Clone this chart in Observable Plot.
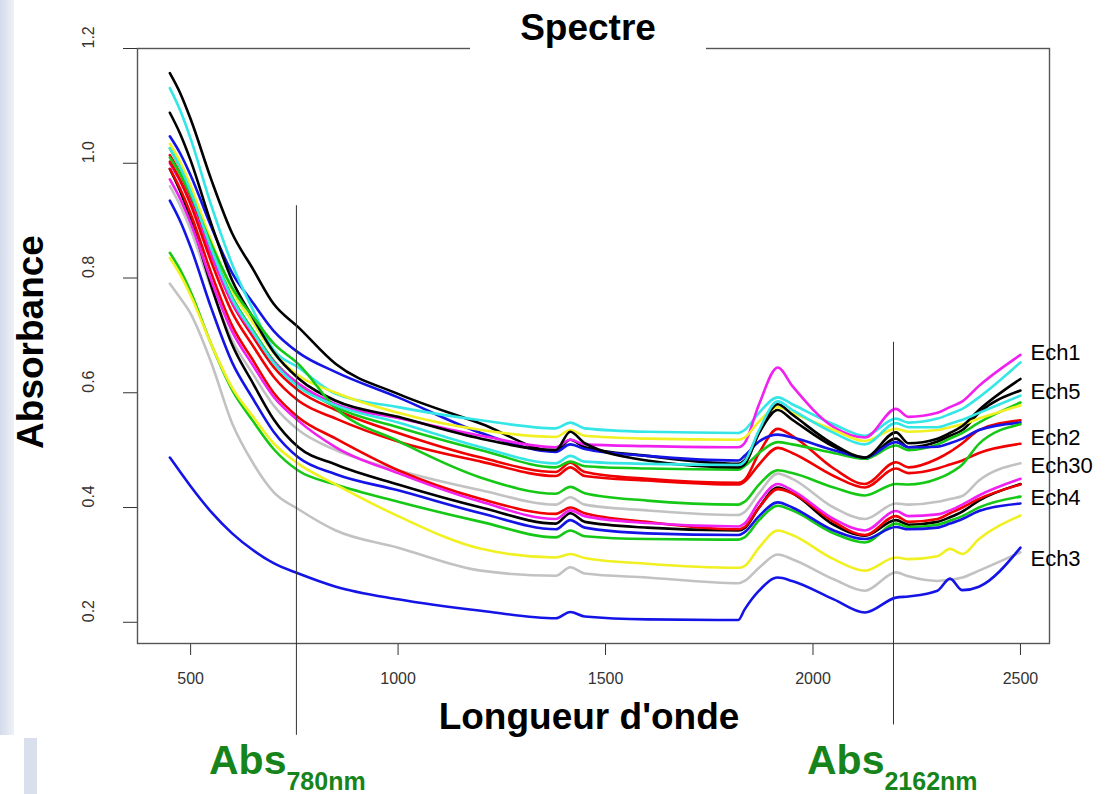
<!DOCTYPE html>
<html>
<head>
<meta charset="utf-8">
<script src="https://cdn.jsdelivr.net/npm/d3@7"></script>
<script src="https://cdn.jsdelivr.net/npm/@observablehq/plot@0.6"></script>
<style>
  html, body { margin: 0; padding: 0; background: #fff; }
  #wrap { position: relative; width: 1107px; height: 794px; background: #fff; overflow: hidden;
          font-family: "Liberation Sans", Arial, Helvetica, sans-serif; }
  #chart { position: absolute; left: 0; top: 0; }
  .strip1 { position: absolute; left: 0; top: 0; width: 14px; height: 735px;
            background: linear-gradient(to right, #d3dbea, #eef1f7); }
  .strip2 { position: absolute; left: 24px; top: 738px; width: 13px; height: 56px; background: #d9dfeb; }
  .title { position: absolute; left: 470px; top: 6px; width: 236px; height: 44px; background: #fff;
           text-align: center; font-weight: bold; font-size: 37px; line-height: 44px; color: #000; }
  .ylab { position: absolute; left: 31px; top: 342px; transform: translate(-50%, -50%) rotate(-90deg);
          font-weight: bold; font-size: 37px; white-space: nowrap; color: #000; }
  .xlab { position: absolute; left: 589px; top: 717px; transform: translate(-50%, -50%);
          font-weight: bold; font-size: 37px; white-space: nowrap; color: #000; }
  .abs { position: absolute; color: #16841a; font-weight: bold; font-size: 41px; white-space: nowrap; line-height: 1; }
  .abs sub { font-size: 25px; vertical-align: -16px; }
</style>
</head>
<body>
<div id="wrap">
  <div class="strip1"></div>
  <div class="strip2"></div>
  <div id="chart"></div>
  <div class="title">Spectre</div>
  <div class="ylab">Absorbance</div>
  <div class="xlab">Longueur d'onde</div>
  <div class="abs" style="left:209px; top:740px;">Abs<sub>780nm</sub></div>
  <div class="abs" style="left:807px; top:740px;">Abs<sub>2162nm</sub></div>
</div>
<script>
// Wavelengths (nm) at which each spectrum is read
const wavelengths = [450, 475, 500, 550, 600, 650, 700, 760, 850, 1000, 1200, 1380, 1415, 1450, 1600, 1820, 1835, 1870, 1915, 1950, 2050, 2125, 2200, 2230, 2300, 2330, 2360, 2400, 2500];

// Absorbance spectra
const blackTop   = [1.157, 1.122, 1.077, 0.971, 0.878, 0.816, 0.755, 0.714, 0.650, 0.598, 0.546, 0.498, 0.518, 0.505, 0.490, 0.476, 0.482, 0.530, 0.570, 0.553, 0.506, 0.485, 0.520, 0.505, 0.515, 0.525, 0.535, 0.565, 0.604];
const redA       = [1.014, 0.981, 0.940, 0.842, 0.756, 0.698, 0.645, 0.604, 0.570, 0.530, 0.487, 0.462, 0.478, 0.462, 0.450, 0.443, 0.448, 0.495, 0.537, 0.525, 0.468, 0.441, 0.479, 0.470, 0.485, 0.497, 0.512, 0.535, 0.552];
const greenA     = [1.026, 0.992, 0.951, 0.853, 0.767, 0.709, 0.656, 0.615, 0.575, 0.540, 0.500, 0.470, 0.480, 0.472, 0.468, 0.466, 0.472, 0.495, 0.514, 0.510, 0.495, 0.485, 0.508, 0.500, 0.510, 0.520, 0.530, 0.548, 0.583];
const blueA      = [1.047, 1.017, 0.979, 0.889, 0.809, 0.757, 0.708, 0.670, 0.636, 0.592, 0.530, 0.497, 0.510, 0.502, 0.490, 0.482, 0.490, 0.515, 0.527, 0.522, 0.500, 0.487, 0.514, 0.505, 0.506, 0.512, 0.520, 0.535, 0.548];
const cyanA      = [1.131, 1.092, 1.043, 0.926, 0.824, 0.745, 0.675, 0.644, 0.598, 0.575, 0.552, 0.538, 0.548, 0.538, 0.532, 0.530, 0.535, 0.565, 0.592, 0.580, 0.545, 0.525, 0.555, 0.548, 0.555, 0.563, 0.572, 0.592, 0.653];
const magentaA   = [1.000, 0.969, 0.931, 0.839, 0.758, 0.704, 0.654, 0.616, 0.580, 0.556, 0.525, 0.505, 0.518, 0.510, 0.507, 0.505, 0.512, 0.580, 0.644, 0.612, 0.540, 0.522, 0.572, 0.558, 0.565, 0.575, 0.585, 0.612, 0.666];
const yellowA    = [1.034, 1.002, 0.961, 0.864, 0.779, 0.723, 0.670, 0.630, 0.600, 0.565, 0.535, 0.523, 0.535, 0.525, 0.520, 0.518, 0.522, 0.550, 0.575, 0.565, 0.535, 0.516, 0.537, 0.532, 0.535, 0.540, 0.545, 0.555, 0.578];
const grayA      = [0.960, 0.926, 0.884, 0.782, 0.692, 0.633, 0.578, 0.535, 0.500, 0.465, 0.430, 0.405, 0.418, 0.405, 0.395, 0.387, 0.392, 0.425, 0.459, 0.450, 0.400, 0.380, 0.407, 0.405, 0.410, 0.415, 0.420, 0.447, 0.477];
const blackB     = [1.088, 1.051, 1.005, 0.894, 0.796, 0.731, 0.671, 0.625, 0.586, 0.558, 0.520, 0.500, 0.532, 0.512, 0.482, 0.470, 0.475, 0.530, 0.580, 0.562, 0.510, 0.487, 0.531, 0.512, 0.520, 0.530, 0.542, 0.570, 0.624];
const redB       = [1.003, 0.970, 0.928, 0.828, 0.740, 0.682, 0.628, 0.586, 0.555, 0.515, 0.480, 0.455, 0.470, 0.455, 0.447, 0.440, 0.445, 0.475, 0.504, 0.495, 0.455, 0.435, 0.468, 0.460, 0.468, 0.475, 0.482, 0.495, 0.511];
const greenB     = [1.010, 0.981, 0.945, 0.859, 0.783, 0.733, 0.686, 0.650, 0.573, 0.516, 0.452, 0.424, 0.436, 0.425, 0.412, 0.405, 0.410, 0.440, 0.465, 0.460, 0.435, 0.421, 0.441, 0.440, 0.450, 0.460, 0.475, 0.511, 0.545];
const cyanB      = [1.026, 0.993, 0.951, 0.851, 0.764, 0.706, 0.652, 0.610, 0.578, 0.548, 0.505, 0.477, 0.490, 0.480, 0.476, 0.474, 0.480, 0.535, 0.585, 0.570, 0.530, 0.510, 0.547, 0.540, 0.540, 0.546, 0.553, 0.565, 0.595];
const blackC     = [0.990, 0.951, 0.903, 0.786, 0.684, 0.617, 0.554, 0.505, 0.475, 0.440, 0.400, 0.372, 0.390, 0.375, 0.365, 0.360, 0.364, 0.400, 0.435, 0.425, 0.370, 0.351, 0.378, 0.370, 0.375, 0.383, 0.393, 0.412, 0.441];
const redC       = [0.990, 0.955, 0.912, 0.808, 0.717, 0.657, 0.600, 0.557, 0.520, 0.465, 0.415, 0.389, 0.400, 0.390, 0.375, 0.362, 0.366, 0.400, 0.432, 0.425, 0.375, 0.352, 0.385, 0.375, 0.380, 0.390, 0.400, 0.415, 0.440];
const greenC     = [0.844, 0.814, 0.776, 0.684, 0.605, 0.551, 0.502, 0.464, 0.440, 0.410, 0.375, 0.348, 0.360, 0.350, 0.345, 0.344, 0.348, 0.378, 0.403, 0.395, 0.355, 0.339, 0.372, 0.366, 0.370, 0.377, 0.385, 0.400, 0.419];
const blueC      = [0.935, 0.899, 0.854, 0.747, 0.653, 0.590, 0.532, 0.487, 0.458, 0.430, 0.390, 0.362, 0.378, 0.365, 0.355, 0.352, 0.357, 0.385, 0.409, 0.400, 0.360, 0.345, 0.366, 0.362, 0.365, 0.372, 0.380, 0.394, 0.407];
const magentaC   = [0.972, 0.938, 0.896, 0.795, 0.707, 0.648, 0.593, 0.551, 0.505, 0.460, 0.410, 0.380, 0.395, 0.385, 0.373, 0.367, 0.372, 0.410, 0.441, 0.430, 0.380, 0.360, 0.394, 0.385, 0.388, 0.395, 0.405, 0.421, 0.450];
const yellowC    = [0.835, 0.806, 0.770, 0.684, 0.609, 0.559, 0.512, 0.476, 0.440, 0.385, 0.328, 0.313, 0.319, 0.312, 0.302, 0.295, 0.298, 0.330, 0.360, 0.352, 0.310, 0.290, 0.313, 0.310, 0.315, 0.328, 0.319, 0.345, 0.386];
const grayC      = [0.790, 0.765, 0.738, 0.652, 0.547, 0.478, 0.427, 0.397, 0.360, 0.330, 0.290, 0.281, 0.296, 0.285, 0.278, 0.268, 0.272, 0.295, 0.318, 0.310, 0.275, 0.255, 0.287, 0.280, 0.272, 0.274, 0.278, 0.290, 0.322];
const blueLow    = [0.487, 0.462, 0.437, 0.392, 0.355, 0.326, 0.303, 0.285, 0.262, 0.240, 0.220, 0.207, 0.218, 0.210, 0.205, 0.204, 0.222, 0.255, 0.278, 0.272, 0.240, 0.217, 0.243, 0.245, 0.255, 0.276, 0.256, 0.262, 0.330];

const seriesNames  = ["blackTop","redA","greenA","blueA","cyanA","magentaA","yellowA","grayA","blackB","redB","greenB","cyanB","blackC","redC","greenC","blueC","magentaC","yellowC","grayC","blueLow"];
const seriesValues = [blackTop, redA, greenA, blueA, cyanA, magentaA, yellowA, grayA, blackB, redB, greenB, cyanB, blackC, redC, greenC, blueC, magentaC, yellowC, grayC, blueLow];
const seriesColors = ["#000000","#f00000","#16c816","#1414e6","#34e6e6","#f020f0","#f0f022","#c2c2c2","#000000","#f00000","#16c816","#34e6e6","#000000","#f00000","#16c816","#1414e6","#f020f0","#f0f022","#c2c2c2","#1414e6"];

// Axis ticks
const xTicks = [500, 1000, 1500, 2000, 2500];
const yTicks = [0.2, 0.4, 0.6, 0.8, 1.0, 1.2];

// End labels
const labelNames  = ["Ech1", "Ech5", "Ech2", "Ech30", "Ech4", "Ech3"];
const labelValues = [0.669, 0.602, 0.522, 0.472, 0.416, 0.311];
const labelAt = 2500;

// Reference wavelength markers (vertical lines)
const markerNm  = [755, 2194];
const markerTop = [0.926, 0.688];
const markerBot = [0.003, 0.021];

const data = seriesValues.flatMap((vals, i) =>
  vals.map((v, j) => ({id: seriesNames[i], nm: wavelengths[j], abs: v, color: seriesColors[i]})));
const labels = labelNames.map((n, i) => ({name: n, y: labelValues[i], x: labelAt}));
const markers = markerNm.map((n, i) => ({nm: n, y1: markerTop[i], y2: markerBot[i]}));

const chart = Plot.plot({
  width: 1107,
  height: 794,
  marginLeft: 137,
  marginRight: 58,
  marginTop: 48,
  marginBottom: 151,
  style: {background: "transparent", fontFamily: "'Liberation Sans', Arial, Helvetica, sans-serif", overflow: "visible"},
  x: {domain: [372, 2570]},
  y: {domain: [0.163, 1.2]},
  color: {type: "identity"},
  marks: [
    Plot.axisX({ticks: xTicks, tickFormat: d => String(d), tickSize: 12, tickPadding: 17, fontSize: 16, label: null, stroke: "#333", color: "#333"}),
    Plot.axisY({ticks: yTicks, tickSize: 14, tickFormat: () => "", label: null, stroke: "#333"}),
    Plot.text(yTicks, {y: d => d, text: d => d.toFixed(1), frameAnchor: "left", dx: -49, rotate: -90, fontSize: 16, fill: "#333"}),
    Plot.line(data, {x: "nm", y: "abs", z: "id", stroke: "color", strokeWidth: 2.6, curve: "monotone-x"}),
    Plot.frame({stroke: "#555", strokeWidth: 1.4}),
    Plot.ruleX(markers, {x: "nm", y1: "y1", y2: "y2", stroke: "#333", strokeWidth: 1, clip: false}),
    Plot.text(labels, {x: "x", y: "y", text: "name", textAnchor: "start", dx: 10, fontSize: 22, fill: "#000"})
  ]
});
document.getElementById("chart").appendChild(chart);
</script>
</body>
</html>
